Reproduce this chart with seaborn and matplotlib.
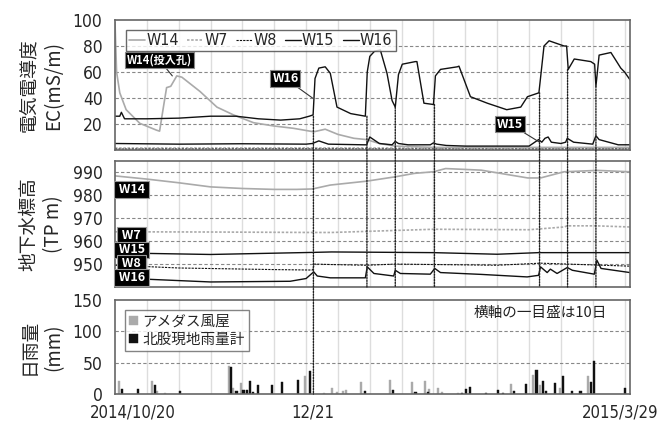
import numpy as np
import pandas as pd
import matplotlib
matplotlib.use("Agg")
import matplotlib.pyplot as plt
import matplotlib.transforms as mtrans
from matplotlib.patches import ConnectionPatch
import seaborn as sns

sns.set_style("white")
plt.rcParams['font.family'] = ['DejaVu Sans', 'Noto Sans CJK JP']
plt.rcParams['font.stretch'] = 'condensed'
JP = ['Noto Sans CJK JP', 'DejaVu Sans']

# days since 2014/10/20
# ---- EC (mS/m)
w14_ec_day = [0, 0.5, 1.5, 3.5, 7.8, 13, 14, 15.2, 16.2, 17.5, 19.4, 21, 26.7, 32, 37.2, 43.5,
              49.8, 56, 62.4, 66, 70, 75, 79, 83, 88, 100, 130, 161.7]
w14_ec = [98, 60, 44, 31, 20.5, 15.3, 14.5, 33, 48, 49, 57, 56, 45, 33, 27, 21,
          18.5, 16.7, 14, 16, 12, 9, 8, 5, 3, 2, 2, 2]
w7_ec_day = [0, 60, 120, 161.7]
w7_ec = [1.5, 1.6, 1.4, 1.5]
w8_ec_day = [0, 60, 120, 161.7]
w8_ec = [0.7, 0.8, 0.6, 0.7]
w15_ec_day = [0, 20, 40, 60, 62, 64, 67, 78, 79, 80, 83, 87, 88, 89, 92, 99, 100, 101, 104, 110,
              120, 130, 133, 134, 135, 136, 137, 140, 141.5, 142, 144, 150, 151, 152, 155, 158, 161.7]
w15_ec = [5, 4.5, 4.8, 4.5, 5, 7, 4.5, 4, 4, 10, 5, 4, 6.6, 5, 4, 4, 5.5, 4.5, 3.5, 3,
          3, 3, 8, 6, 9, 10, 6, 5, 6, 9, 6, 4.5, 11, 8, 6, 4, 4]
w16_ec_day = [0, 1.5, 2, 3, 10, 20, 30, 38, 45, 52, 58, 61, 62.2, 62.8, 64, 66, 67.6, 69.7, 74,
              78.6, 79.2, 80, 81.5, 83.3, 85.4, 87, 88, 89, 90.2, 94.3, 94.8, 97, 100, 100.6,
              102.2, 107.5, 108, 111.6, 116.9, 123, 127.4, 129.5, 133.1, 134.7, 136.3, 141,
              141.8, 142.3, 144.2, 149.4, 150.6, 151, 152, 155.7, 157, 158.8, 160, 161.7]
w16_ec = [26, 26, 29, 24, 24, 24.5, 26, 26, 24, 23, 24, 26, 27, 55, 63, 64, 59, 33, 28,
          26, 60, 72, 76, 77, 59, 38, 33, 58, 66, 68, 68, 36, 35, 57,
          62, 64, 64.5, 41, 36, 31, 33, 41, 44, 80, 84, 80,
          80, 62, 70, 68, 66, 49, 73, 75, 70, 63, 60, 54]

# ---- groundwater level (TP m)
w14_gw_day = [0, 10, 20, 30, 40, 50, 57, 62, 67.6, 79, 88, 94, 100, 103.8, 115, 129.6, 133.6,
              141, 151.4, 161.7]
w14_gw = [988.5, 987.1, 985.5, 983.7, 983.0, 982.6, 982.6, 982.8, 984.5, 986.2, 988.1, 989.6,
          990.3, 991.7, 991.0, 987.6, 987.6, 990.3, 990.9, 990.3]
w7_gw_day = [0, 30, 62, 68, 100, 130, 141, 142, 151, 161.7]
w7_gw = [964.1, 964.0, 963.8, 963.8, 965.2, 965.0, 966.2, 966.7, 966.7, 966.2]
w15_gw_day = [0, 30, 62, 68, 100, 120, 133, 161.7]
w15_gw = [954.9, 954.2, 955.1, 955.3, 955.0, 954.3, 955.0, 955.0]
w8_gw_day = [0, 20, 50, 62, 62.6, 68, 79, 88, 120, 133.6, 161.7]
w8_gw = [949.5, 948.3, 947.6, 947.4, 950.0, 949.8, 949.5, 950.0, 949.5, 950.4, 949.1]
w16_gw_day = [0, 10, 30, 55, 60, 62.4, 63.5, 67.6, 78.6, 79.2, 81.3, 87.5, 88, 89.6, 99,
              100.4, 102.2, 115, 129.4, 133, 133.6, 135.7, 136.7, 138.8, 142, 143.6, 150.5,
              151.3, 152.6, 161.7]
w16_gw = [944.0, 943.4, 942.2, 942.5, 943.7, 946.6, 944.8, 944.0, 944.0, 948.8, 945.9, 944.8,
          947.3, 945.9, 945.6, 948.1, 946.3, 945.5, 944.4, 945.1, 948.8, 946.3, 947.8, 945.9,
          948.5, 947.3, 945.6, 951.7, 948.1, 946.3]

# ---- daily rainfall (mm)
amedas_day = [0, 1.6, 12, 13.5, 16, 36, 37.5, 39.8, 60, 66, 68.6, 70, 71.8, 73, 77.6, 86.7,
              93.6, 97.7, 99, 101.7, 103, 108, 124.7, 131.5, 133.9, 140, 148.8]
amedas = [2, 20, 20, 4, 2, 45, 9, 17, 29, 2, 10, 3, 5, 6, 19, 23,
          19, 21, 8, 9, 3, 2, 16, 31, 14, 9, 28]
kitamata_day = [1.8, 7, 12.2, 20, 36.2, 37.8, 40, 41, 42, 43, 44.5, 49, 52, 57, 61, 78,
                87, 94, 98, 108.5, 109.8, 111, 116, 120, 121.5, 125, 128.7, 132, 134.1,
                135, 137.8, 140.2, 143, 145.8, 149, 150, 159.9]
kitamata = [8, 8, 15, 5, 43, 5, 7, 7, 20, 3, 14, 14, 19, 22, 36, 5,
            6, 3, 3, 2, 8, 11, 2, 7, 2, 4, 16, 38, 21, 4, 18, 28, 4, 5, 19, 52, 9]

# event dates (vertical dotted lines) and W16 level where the line starts
event_day = [62.3, 79.1, 88, 100.3, 133.3, 142.1, 151]
event_top = [26, 26, 33, 35, 44, 62, 49]

fig = plt.figure(figsize=(6.63, 4.23), dpi=100)
left, right = 115 / 663, 630 / 663
ax1 = fig.add_axes([left, 1 - 150 / 423, right - left, 130 / 423])
ax2 = fig.add_axes([left, 1 - 287 / 423, right - left, 126 / 423])
ax3 = fig.add_axes([left, 1 - 394 / 423, right - left, 94 / 423])

xmax = 161.7
light = '#aaaaaa'
dark = '#111111'
styles = {
    'W14': dict(color=light, ls='-', lw=1.2),
    'W7': dict(color=light, ls=(0, (1.5, 1)), lw=1.2),
    'W8': dict(color=dark, ls=(0, (2, 1)), lw=0.8),
    'W15': dict(color=dark, ls='-', lw=1.0),
    'W16': dict(color=dark, ls='-', lw=1.0),
}

ec = [('W14', w14_ec_day, w14_ec), ('W7', w7_ec_day, w7_ec), ('W8', w8_ec_day, w8_ec),
      ('W15', w15_ec_day, w15_ec), ('W16', w16_ec_day, w16_ec)]
for name, d, v in ec:
    st = styles[name]
    sns.lineplot(x=d, y=v, ax=ax1, color=st['color'], linestyle=st['ls'],
                 linewidth=st['lw'], label=name)

gw = [('W14', w14_gw_day, w14_gw), ('W7', w7_gw_day, w7_gw), ('W15', w15_gw_day, w15_gw),
      ('W8', w8_gw_day, w8_gw), ('W16', w16_gw_day, w16_gw)]
for name, d, v in gw:
    st = styles[name]
    sns.lineplot(x=d, y=v, ax=ax2, color=st['color'], linestyle=st['ls'],
                 linewidth=st['lw'], legend=False)

ax3.bar(np.array(amedas_day) - 0.35, amedas, width=0.65, color=light, ec=light, lw=0.3,
        label='アメダス風屋')
ax3.bar(np.array(kitamata_day) + 0.35, kitamata, width=0.65, color=dark, ec=dark, lw=0.3,
        label='北股現地雨量計')

for ax, ylim, yt in [(ax1, (0, 100), [20, 40, 60, 80, 100]),
                     (ax2, (940, 995), [950, 960, 970, 980, 990]),
                     (ax3, (0, 150), [0, 50, 100, 150])]:
    ax.set_xlim(0, xmax)
    ax.set_ylim(*ylim)
    ax.set_yticks(yt)
    ax.set_xticks(np.arange(0, 161, 10))
    for x in np.arange(10, 161, 10):
        ax.axvline(x, color='#dddddd', lw=1, zorder=0)
    for y in yt:
        if ylim[0] < y < ylim[1]:
            ax.axhline(y, color='#888888', lw=0.8, ls=(0, (3, 2)), zorder=0)
    for s in ax.spines.values():
        s.set_color('#666666')
        s.set_linewidth(1.2)
    ax.tick_params(axis='y', labelsize=12.5, length=0, pad=9)
    ax.tick_params(axis='x', length=0)
    ax.set_xticklabels([])
    ax.set_xlabel('')

ax3.set_xticks([0, 62, 160])
ax3.set_xticklabels(['2014/10/20', '12/21', '2015/3/29'], fontsize=12)
ax3.tick_params(axis='x', length=3, color='#666666', pad=4)
lbl = ax3.get_xticklabels()[0]
lbl.set_transform(lbl.get_transform() + mtrans.ScaledTranslation(13 / 72, 0, fig.dpi_scale_trans))
lbl = ax3.get_xticklabels()[2]
lbl.set_transform(lbl.get_transform() + mtrans.ScaledTranslation(-3 / 72, 0, fig.dpi_scale_trans))

for ax, txt in [(ax1, '電気電導度\nEC(mS/m)'), (ax2, '地下水標高\n(TP m)'), (ax3, '日雨量\n(mm)')]:
    ax.set_ylabel(txt, fontsize=13.5, family=JP, linespacing=1.25, labelpad=6)
fig.align_ylabels([ax1, ax2, ax3])

leg = ax1.legend(loc='upper left', ncol=5, fontsize=11.5, frameon=True, fancybox=False,
                 handlelength=1.0, handletextpad=0.05, columnspacing=0.55,
                 borderpad=0.2, bbox_to_anchor=(0.006, 0.985))
leg.get_frame().set_edgecolor('#444444')
leg.get_frame().set_linewidth(1)

leg3 = ax3.legend(loc='upper left', frameon=True, fancybox=False,
                  handlelength=0.6, handleheight=0.6, handletextpad=0.3,
                  borderpad=0.3, labelspacing=0.3, prop={'family': JP, 'size': 10.5},
                  bbox_to_anchor=(0.005, 0.97))
leg3.get_frame().set_edgecolor('#666666')
ax3.text(0.955, 0.86, '横軸の一目盛は10日', transform=ax3.transAxes, ha='right', va='center',
         fontsize=10.5, family=JP, color='#222222')

box = dict(boxstyle='square,pad=0.15', fc='black', ec='#888888', lw=0.8)
arrow = dict(arrowstyle='-', color='#333333', lw=0.8, shrinkA=0, shrinkB=0)
ax1.annotate('W14(投入孔)', xy=(18, 57), xytext=(14, 69), ha='center', va='center',
             fontsize=8, color='white', weight='bold', family=JP, bbox=box, arrowprops=arrow)
ax1.annotate('W16', xy=(62, 40), xytext=(53.5, 55), ha='center', va='center',
             fontsize=9, color='white', weight='bold', family=JP, bbox=box, arrowprops=arrow)
ax1.annotate('W15', xy=(133.3, 6), xytext=(124, 20), ha='center', va='center',
             fontsize=9, color='white', weight='bold', family=JP, bbox=box, arrowprops=arrow)

gw_box = dict(boxstyle='square,pad=0.15', fc='black', ec='#999999', lw=0.8)
for name, yv in [('W14', 982.5), ('W7', 962.5), ('W15', 956.2), ('W8', 950.2), ('W16', 944.0)]:
    ax2.text(5.2, yv, ' ' + name + ' ', ha='center', va='center', fontsize=9,
             color='white', weight='bold', family=JP, bbox=gw_box)

# vertical dotted event lines
for i, (d, top) in enumerate(zip(event_day, event_top)):
    bottom_ax = ax3 if i == 0 else ax2
    bottom_y = 0 if i == 0 else 940
    con = ConnectionPatch(xyA=(d, top), coordsA=ax1.transData,
                          xyB=(d, bottom_y), coordsB=bottom_ax.transData,
                          color='#222222', lw=1.0, ls=(0, (1, 1)))
    fig.add_artist(con)

fig.savefig('out.png', dpi=100)
